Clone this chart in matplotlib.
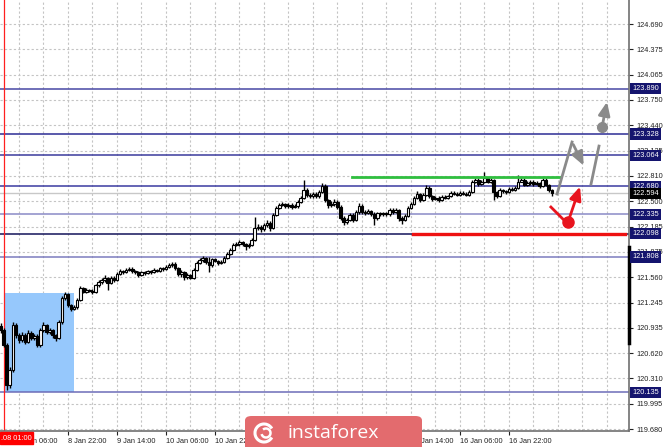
import numpy as np
import matplotlib.pyplot as plt
from matplotlib.patches import Rectangle, FancyBboxPatch, Arc
import matplotlib.transforms as mtransforms

# --- Data (USD/JPY H1) ---
first_open = 120.95
close = [120.905, 120.719, 120.224, 120.410, 120.967, 120.843,
         120.781, 120.843, 120.757, 120.868, 120.806, 120.831, 120.719, 120.905, 120.967, 120.880,
         120.905, 120.843, 120.806, 121.004, 121.301, 121.350, 121.214, 121.165, 121.189, 121.276,
         121.424, 121.375, 121.399, 121.387, 121.375, 121.462, 121.499, 121.523, 121.548, 121.486,
         121.548, 121.523, 121.598, 121.635, 121.622, 121.647, 121.660, 121.635, 121.622, 121.585,
         121.622, 121.610, 121.635, 121.622, 121.647, 121.635, 121.672, 121.660, 121.684, 121.709,
         121.721, 121.672, 121.598, 121.622, 121.561, 121.585, 121.548, 121.647, 121.734, 121.771,
         121.796, 121.746, 121.709, 121.783, 121.759, 121.734, 121.746, 121.796, 121.845, 121.894,
         121.956, 121.969, 121.993, 121.969, 121.944, 121.956, 122.018, 122.167, 122.179, 122.154,
         122.204, 122.229, 122.167, 122.328, 122.414, 122.451, 122.464, 122.439, 122.451, 122.426,
         122.439, 122.488, 122.538, 122.637, 122.575, 122.562, 122.587, 122.562, 122.612, 122.686,
         122.513, 122.451, 122.464, 122.488, 122.426, 122.290, 122.241, 122.266, 122.328, 122.266,
         122.365, 122.439, 122.365, 122.352, 122.377, 122.340, 122.290, 122.352, 122.340, 122.352,
         122.340, 122.389, 122.365, 122.389, 122.290, 122.266, 122.315, 122.414, 122.464, 122.538,
         122.587, 122.513, 122.575, 122.661, 122.562, 122.525, 122.538, 122.513, 122.550, 122.538,
         122.562, 122.600, 122.587, 122.575, 122.600, 122.587, 122.575, 122.612, 122.736, 122.760,
         122.711, 122.736, 122.785, 122.736, 122.760, 122.612, 122.562, 122.637, 122.624, 122.612,
         122.649, 122.637, 122.661, 122.736, 122.760, 122.699, 122.723, 122.736, 122.711, 122.723,
         122.686, 122.760, 122.699, 122.637, 122.594]
high = [120.99, 120.93, 120.74, 120.45, 121.01, 120.99,
        120.87, 120.88, 120.87, 120.90, 120.89, 120.86, 120.85, 120.93, 121.00, 120.98,
        120.93, 120.92, 120.86, 121.03, 121.33, 121.37, 121.36, 121.23, 121.21, 121.30,
        121.45, 121.44, 121.42, 121.41, 121.41, 121.48, 121.52, 121.55, 121.58, 121.56,
        121.57, 121.57, 121.62, 121.66, 121.65, 121.67, 121.68, 121.68, 121.65, 121.64,
        121.64, 121.64, 121.65, 121.65, 121.67, 121.66, 121.69, 121.69, 121.71, 121.73,
        121.75, 121.74, 121.69, 121.65, 121.64, 121.61, 121.60, 121.67, 121.76, 121.79,
        121.82, 121.81, 121.81, 121.80, 121.80, 121.77, 121.77, 121.82, 121.87, 121.92,
        121.98, 121.99, 122.02, 122.01, 121.98, 121.98, 122.04, 122.30, 122.22, 122.20,
        122.23, 122.26, 122.25, 122.35, 122.44, 122.48, 122.49, 122.48, 122.47, 122.47,
        122.46, 122.51, 122.56, 122.76, 122.66, 122.60, 122.61, 122.61, 122.64, 122.72,
        122.71, 122.53, 122.50, 122.52, 122.51, 122.45, 122.31, 122.29, 122.35, 122.35,
        122.39, 122.47, 122.46, 122.39, 122.40, 122.39, 122.36, 122.37, 122.37, 122.37,
        122.37, 122.41, 122.41, 122.41, 122.40, 122.31, 122.34, 122.44, 122.49, 122.56,
        122.62, 122.60, 122.60, 122.70, 122.68, 122.58, 122.56, 122.56, 122.57, 122.57,
        122.58, 122.62, 122.62, 122.61, 122.62, 122.62, 122.61, 122.64, 122.76, 122.79,
        122.78, 122.76, 122.86, 122.80, 122.78, 122.77, 122.63, 122.66, 122.65, 122.64,
        122.67, 122.67, 122.69, 122.82, 122.79, 122.78, 122.75, 122.76, 122.76, 122.75,
        122.74, 122.79, 122.78, 122.71, 122.65]
low = [120.87, 120.69, 120.16, 120.19, 120.39, 120.80,
       120.74, 120.76, 120.73, 120.74, 120.78, 120.78, 120.69, 120.70, 120.88, 120.86,
       120.85, 120.81, 120.77, 120.79, 120.98, 121.28, 121.19, 121.14, 121.15, 121.17,
       121.26, 121.36, 121.36, 121.37, 121.35, 121.36, 121.44, 121.48, 121.50, 121.40,
       121.47, 121.50, 121.51, 121.58, 121.60, 121.61, 121.63, 121.61, 121.60, 121.56,
       121.57, 121.59, 121.60, 121.60, 121.61, 121.62, 121.62, 121.64, 121.65, 121.67,
       121.69, 121.65, 121.57, 121.56, 121.52, 121.54, 121.53, 121.53, 121.63, 121.72,
       121.75, 121.72, 121.62, 121.69, 121.74, 121.71, 121.72, 121.73, 121.78, 121.83,
       121.88, 121.94, 121.95, 121.95, 121.90, 121.92, 121.94, 122.00, 122.14, 122.12,
       122.13, 122.18, 122.13, 122.15, 122.31, 122.40, 122.44, 122.42, 122.42, 122.40,
       122.41, 122.42, 122.47, 122.52, 122.55, 122.54, 122.54, 122.54, 122.54, 122.60,
       122.49, 122.42, 122.43, 122.44, 122.40, 122.26, 122.20, 122.21, 122.25, 122.24,
       122.25, 122.34, 122.34, 122.33, 122.34, 122.31, 122.20, 122.27, 122.32, 122.32,
       122.32, 122.32, 122.34, 122.35, 122.25, 122.22, 122.25, 122.30, 122.40, 122.45,
       122.52, 122.49, 122.50, 122.56, 122.54, 122.50, 122.51, 122.49, 122.50, 122.52,
       122.52, 122.55, 122.57, 122.56, 122.56, 122.57, 122.56, 122.56, 122.60, 122.72,
       122.69, 122.70, 122.72, 122.72, 122.72, 122.51, 122.54, 122.55, 122.60, 122.59,
       122.60, 122.62, 122.62, 122.65, 122.73, 122.68, 122.68, 122.70, 122.69, 122.70,
       122.66, 122.67, 122.68, 122.61, 122.56]
bar_idx = np.arange(-6, -6 + len(close))   # 0 = 8 Jan 06:00, one bar per hour

levels = [123.890, 123.328, 123.064, 122.680, 122.335, 122.098, 121.808, 120.135]
level_colors = ['#4848a4', '#2c2c94', '#3a3a9c', '#3a3aa0', '#8a8ac6', '#14145a', '#7c7cbe', '#6c6cb8']
current_price = 122.594
resistance = 122.797      # green
support = 122.098         # red

price_ticks = [124.690, 124.375, 124.065, 123.750, 123.440, 123.125, 122.810, 122.500,
               122.185, 121.875, 121.560, 121.245, 120.935, 120.620, 120.310, 119.995, 119.680]
time_ticks = [0, 16, 32, 48, 64, 80, 96, 112, 128, 144, 160]
time_labels = ['8 Jan 06:00', '8 Jan 22:00', '9 Jan 14:00', '10 Jan 06:00', '10 Jan 22:00',
               '13 Jan 14:00', '14 Jan 06:00', '14 Jan 22:00', '15 Jan 14:00', '16 Jan 06:00',
               '16 Jan 22:00']

plt.rcParams['font.family'] = ['Liberation Sans', 'DejaVu Sans']
fs = 5.3

fig = plt.figure(figsize=(6.65, 4.47), dpi=100)
ax = fig.add_axes([0, 16 / 447, 629 / 665, 431 / 447])
ax.set_xlim(-6.2, 199.2)
ax.set_ylim(119.6555, 124.987)

# grid
for x in np.arange(-8, 200, 8):
    ax.axvline(x, color='#c4c4c4', lw=0.8, ls=(0, (2, 2)), zorder=0)
for p in price_ticks:
    ax.axhline(p, color='#c4c4c4', lw=0.8, ls=(0, (2, 2)), zorder=0)

# blue box
ax.add_patch(Rectangle((-4.9, 120.135), 22.9, 121.363 - 120.135, color='#96c8fc', lw=0, zorder=1))

# levels
ax.axhline(current_price, color='#c8c8c8', lw=1.0, zorder=1)
for lv, c in zip(levels, level_colors):
    ax.axhline(lv, color=c, lw=1.1, zorder=2)
ax.axvline(-5, color='#ff2020', lw=0.9, zorder=2)

# candles
open_ = [first_open] + close[:-1]
o = np.array(open_)
c = np.array(close)
ax.vlines(bar_idx, low, high, color='black', lw=1.0, zorder=3)
up = c >= o
ax.bar(bar_idx[up], (c - o)[up], bottom=o[up], width=0.85, color='white', edgecolor='black', lw=0.8, zorder=4)
ax.bar(bar_idx[~up], (o - c)[~up], bottom=c[~up], width=0.85, color='black', edgecolor='black', lw=0.8, zorder=4)

# green / red lines
ax.plot([108.7, 176.7], [resistance, resistance], color='#2fbf3f', lw=2, zorder=5)
ax.plot([128.7, 197.9], [support, support], color='#ee1111', lw=2.4, zorder=5)

# forecast arrows
gray = '#8a8a8a'
red = '#e8141e'
ax.plot([175.7, 180.6], [122.587, 123.230], color=gray, lw=2, zorder=6)
ax.annotate('', xy=(184.8, 122.909), xytext=(180.6, 123.230),
            arrowprops=dict(arrowstyle='-|>,head_length=0.8,head_width=0.35', color=gray, lw=2), zorder=6)
ax.plot([186.8, 189.4], [122.710, 123.180], color=gray, lw=2, zorder=6)
ax.plot([190.4], [123.416], 'o', color=gray, ms=7, zorder=6)
ax.annotate('', xy=(192.2, 123.760), xytext=(190.4, 123.416),
            arrowprops=dict(arrowstyle='-|>,head_length=0.8,head_width=0.35', color=gray, lw=2), zorder=6)
ax.plot([173.7, 177.6], [122.426, 122.278], color=red, lw=2, zorder=6)
ax.plot([179.3], [122.241], 'o', color=red, ms=8, zorder=6)
ax.annotate('', xy=(183.5, 122.711), xytext=(179.3, 122.241),
            arrowprops=dict(arrowstyle='-|>,head_length=0.8,head_width=0.35', color=red, lw=2), zorder=6)

# axes style
for s in ['left', 'top']:
    ax.spines[s].set_visible(False)
for s in ['right', 'bottom']:
    ax.spines[s].set_color('#707070')
    ax.spines[s].set_linewidth(1.2)
ax.yaxis.tick_right()
ax.set_yticks(price_ticks)
ax.set_yticklabels([f'{p:.3f}' for p in price_ticks])
ax.tick_params(axis='y', length=3, width=0.8, pad=2, labelsize=fs, colors='#222222')
ax.set_xticks(time_ticks)
ax.set_xticklabels(time_labels, ha='left')
ax.tick_params(axis='x', length=3, width=0.8, pad=2, labelsize=fs, colors='#222222')

# thick black bar on price scale
ax.plot([199.2, 199.2], [120.744, 121.932], color='black', lw=2.5, clip_on=False, zorder=7)

# level labels on price scale
trans = mtransforms.blended_transform_factory(ax.transAxes, ax.transData)
for lv in levels:
    ax.text(1.005, lv, f'{lv:.3f}', transform=trans, ha='left', va='center', fontsize=fs, color='white',
            bbox=dict(boxstyle='square,pad=0.3', fc='#14146e', ec='none'), zorder=8, clip_on=False)
ax.text(1.005, current_price, f'{current_price:.3f}', transform=trans, ha='left', va='center', fontsize=fs,
        color='white', bbox=dict(boxstyle='square,pad=0.3', fc='black', ec='none'), zorder=8, clip_on=False)

# red time marker label
fig.patches.append(Rectangle((0, 3 / 447), 33 / 665, 12 / 447, transform=fig.transFigure, color='#ff0000'))
fig.text(32 / 665, 9 / 447, '.08 01:00', ha='right', va='center', fontsize=fs, color='white')

# watermark
fig.patches.append(FancyBboxPatch((245 / 665, -5 / 447), 177 / 665, 36 / 447, boxstyle='round,pad=0,rounding_size=0.01',
                                  transform=fig.transFigure, fc='#e36b6e', ec='none', zorder=10))
fig.text(333 / 665, 14 / 447, 'instaforex', ha='center', va='center', fontsize=14, color='white',
         family='Open Sans', zorder=11)
fig.patches.append(Arc((264 / 665, 14 / 447), 18 / 665, 18 / 447, theta1=40, theta2=320,
                       transform=fig.transFigure, color='white', lw=2.2, zorder=11))
fig.patches.append(Arc((266 / 665, 14 / 447), 9 / 665, 9 / 447, theta1=200, theta2=120,
                       transform=fig.transFigure, color='white', lw=1.8, zorder=11))

fig.savefig('out.png', dpi=100)
